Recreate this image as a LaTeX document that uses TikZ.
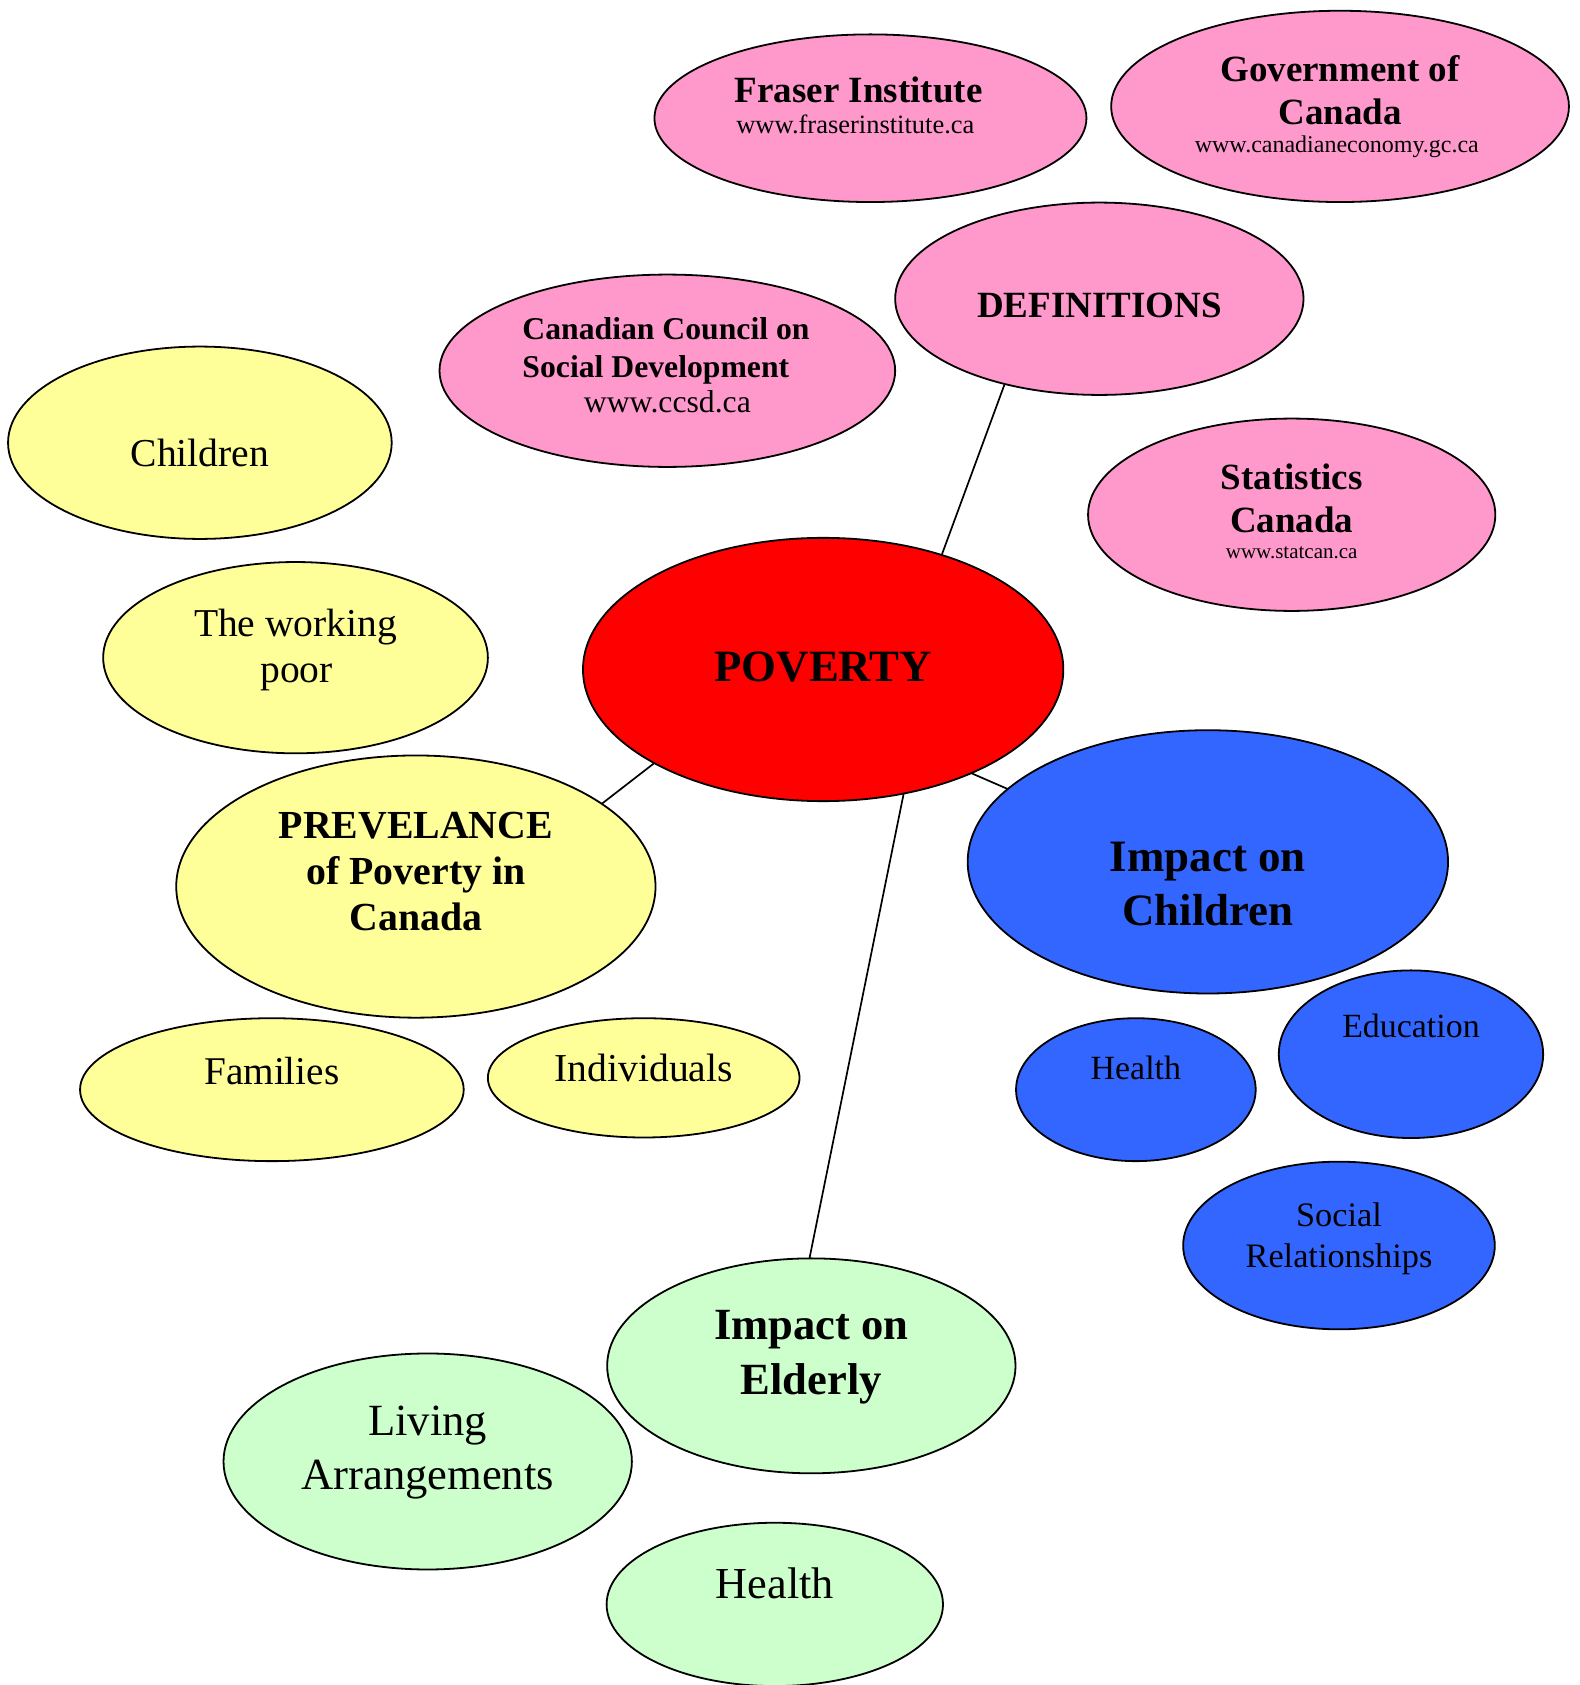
\documentclass[tikz,border=0pt]{standalone}
\usepackage{fontspec}
\setmainfont{Liberation Serif}
\usetikzlibrary{shapes.geometric}
\definecolor{pinkc}{HTML}{FF99CC}
\definecolor{yelc}{HTML}{FFFF99}
\definecolor{bluec}{HTML}{3366FF}
\definecolor{greenc}{HTML}{CCFFCC}
\definecolor{redc}{HTML}{FF0000}
\newcommand{\myfs}[1]{\fontsize{#1pt}{#1pt}\selectfont}
\begin{document}
\begin{tikzpicture}[x=1.07483pt, y=-1.07483pt,
  ell/.style={ellipse, draw=black, line width=1.8pt, inner sep=0pt, outer sep=0pt},
  es/.style 2 args={minimum width={#1*1.07483pt}, minimum height={#2*1.07483pt}},
  lbl/.style={anchor=base, inner sep=0pt, text=black},
  conn/.style={draw=black, line width=1.7pt}]
\useasboundingbox (0,0) rectangle (1470,1568);

% ellipses
\node[ell, fill=pinkc, es={402}{156}] (fraser) at (810,110) {};
\node[ell, fill=pinkc, es={426}{178}] (gov) at (1247,99) {};
\node[ell, fill=pinkc, es={380}{179}] (def) at (1023,278) {};
\node[ell, fill=pinkc, es={424}{179}] (ccsd) at (621,345) {};
\node[ell, fill=pinkc, es={379}{179}] (stat) at (1202,479) {};
\node[ell, fill=yelc, es={357}{179}] (child) at (186,412) {};
\node[ell, fill=yelc, es={358}{178}] (work) at (275,612) {};
\node[ell, fill=redc, es={447}{245}] (pov) at (766,623) {};
\node[ell, fill=yelc, es={446}{244}] (prev) at (387,825) {};
\node[ell, fill=bluec, es={447}{245}] (impc) at (1124,802) {};
\node[ell, fill=yelc, es={357}{133}] (fam) at (253,1014) {};
\node[ell, fill=yelc, es={290}{111}] (ind) at (599,1003) {};
\node[ell, fill=bluec, es={223}{133}] (hlth) at (1057,1014) {};
\node[ell, fill=bluec, es={246}{156}] (edu) at (1313,981) {};
\node[ell, fill=bluec, es={290}{156}] (soc) at (1246,1159) {};
\node[ell, fill=greenc, es={380}{200}] (impe) at (755,1271) {};
\node[ell, fill=greenc, es={380}{201}] (liv) at (398,1360) {};
\node[ell, fill=greenc, es={313}{152}] (hg) at (721,1493) {};

% connectors
\draw[conn] (pov.44.2) -- (def.222.6);
\draw[conn] (pov.209.5) -- (prev.24.4);
\draw[conn] (pov.325.9) -- (impc.160.2);
\draw[conn] (pov.303.3) -- (impe.91);

% texts
\node[lbl, font=\myfs{37}\bfseries] (fraser-t1) at (799,95) {Fraser Institute};
\node[lbl, font=\myfs{26.5}] (fraser-t2) at (796,124) {www.fraserinstitute.ca};

\node[lbl, font=\myfs{37}\bfseries] (gov-t1) at (1247,75.5) {Government of};
\node[lbl, font=\myfs{37}\bfseries] (gov-t2) at (1247,115.5) {Canada};
\node[lbl, font=\myfs{24}] (gov-t3) at (1244,142) {www.canadianeconomy.gc.ca};

\node[lbl, font=\myfs{37}\bfseries] (def-t) at (1023,295.5) {DEFINITIONS};

\node[lbl, anchor=base west, font=\myfs{31.7}\bfseries] (ccsd-t1) at (486,316) {Canadian Council on};
\node[lbl, anchor=base west, font=\myfs{31.7}\bfseries] (ccsd-t2) at (486,351) {Social Development};
\node[lbl, font=\myfs{31.7}] (ccsd-t3) at (621,384) {www.ccsd.ca};

\node[lbl, font=\myfs{37}\bfseries] (stat-t1) at (1202,455.5) {Statistics};
\node[lbl, font=\myfs{37}\bfseries] (stat-t2) at (1202,495.5) {Canada};
\node[lbl, font=\myfs{21}] (stat-t3) at (1202,520) {www.statcan.ca};

\node[lbl, font=\myfs{39.6}] (child-t) at (186,434) {Children};
\node[lbl, font=\myfs{39.5}] (work-t1) at (275,592) {The working};
\node[lbl, font=\myfs{39.5}] (work-t2) at (276,635) {poor};

\node[lbl, font=\myfs{44.8}\bfseries] (pov-t) at (766,634) {POVERTY};

\node[lbl, font=\myfs{39.8}\bfseries] (prev-t1) at (387,780) {PREVELANCE};
\node[lbl, font=\myfs{39.8}\bfseries] (prev-t2) at (387,823) {of Poverty in};
\node[lbl, font=\myfs{39.8}\bfseries] (prev-t3) at (387,866) {Canada};

\node[lbl, font=\myfs{44.9}\bfseries] (impc-t1) at (1124,811) {Impact on};
\node[lbl, font=\myfs{44.9}\bfseries] (impc-t2) at (1124,861) {Children};

\node[lbl, font=\myfs{39.3}] (fam-t) at (253,1009) {Families};
\node[lbl, font=\myfs{39.6}] (ind-t) at (599,1006) {Individuals};

\node[lbl, font=\myfs{33.9}] (hlth-t) at (1057,1004.5) {Health};
\node[lbl, font=\myfs{33.9}] (edu-t) at (1313,965.5) {Education};
\node[lbl, font=\myfs{34.3}] (soc-t1) at (1246,1141.5) {Social};
\node[lbl, font=\myfs{34.3}] (soc-t2) at (1246,1179.5) {Relationships};

\node[lbl, font=\myfs{44.6}\bfseries] (impe-t1) at (755,1246.5) {Impact on};
\node[lbl, font=\myfs{44.6}\bfseries] (impe-t2) at (755,1297.5) {Elderly};

\node[lbl, font=\myfs{44.6}] (liv-t1) at (398,1335.5) {Living};
\node[lbl, font=\myfs{44.6}] (liv-t2) at (398,1386.5) {Arrangements};

\node[lbl, font=\myfs{44.3}] (hg-t) at (721,1487.5) {Health};
\end{tikzpicture}
\end{document}
